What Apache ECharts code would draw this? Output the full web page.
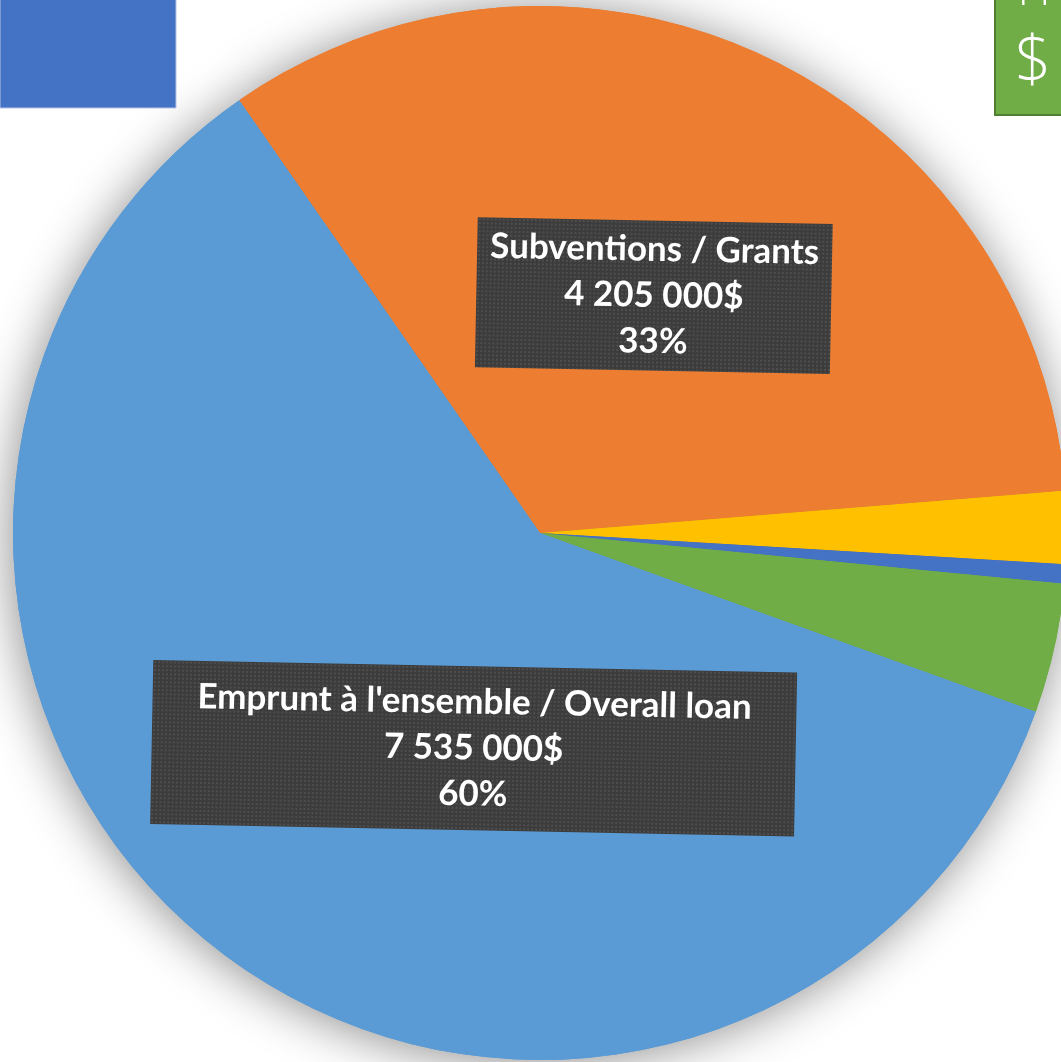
<!DOCTYPE html>
<html>
<head>
<meta charset="utf-8">
<script src="https://cdn.jsdelivr.net/npm/echarts@6/dist/echarts.min.js"></script>
<style>
  html, body { margin: 0; padding: 0; background: #fff; }
  #chart { width: 1061px; height: 1062px; }
</style>
</head>
<body>
<div id="chart"></div>
<script>
// données (sens horaire à partir du bord gauche de la tranche orange)
const sliceNames = ['Subventions / Grants', 'Source 3', 'Source 4', 'Source 5', "Emprunt à l'ensemble / Overall loan"]
const sliceValues = [4205000, 280000, 75000, 500000, 7535000]
const sliceColors = ['#ED7D31', '#FFC000', '#4472C4', '#70AD47', '#5B9BD5']
const labelShown = [true, false, false, false, true]

const myChart = echarts.init(document.getElementById('chart'))

// petite texture pointillée des étiquettes
const dotPattern = (w, h) => {
  const c = document.createElement('canvas')
  c.width = w
  c.height = h
  const ctx = c.getContext('2d')
  ctx.fillStyle = '#3c3c3c'
  ctx.fillRect(0, 0, w, h)
  ctx.fillStyle = '#4e4e4e'
  for (let y = 1; y < h; y += 4) {
    for (let x = 1; x < w; x += 4) ctx.fillRect(x, y, 2, 2)
  }
  return c
}

const fmtMoney = (v) => String(v).replace(/\B(?=(\d{3})+(?!\d))/g, ' ') + '$'

// boîtes des étiquettes : largeur texte, paddings, décalage
const boxes = {
  0: { w: 327, pv: 6, ph: 14, offset: [0, 3.5] },
  4: { w: 602, pv: 13, ph: 21, offset: [96, 2] }
}

const pieData = sliceNames.map((name, i) => {
  const item = { name, value: sliceValues[i], itemStyle: { color: sliceColors[i] } }
  if (!labelShown[i]) {
    item.label = { show: false }
  } else {
    const b = boxes[i]
    item.label = {
      width: b.w,
      overflow: 'none',
      padding: [b.pv + 3, b.ph, b.pv - 3, b.ph],
      offset: b.offset,
      backgroundColor: { image: dotPattern(b.w + 2 * b.ph, 138 + 2 * b.pv) }
    }
  }
  return item
})

const option = {
  animation: false,
  graphic: [
    {
      type: 'rect', z: 100,
      shape: { x: 0, y: -2, width: 176, height: 110 },
      style: { fill: '#4472C4', stroke: '#b4c4e6', lineWidth: 1 }
    },
    {
      type: 'rect', z: 100,
      shape: { x: 995, y: -4, width: 80, height: 119 },
      style: { fill: '#70AD47', stroke: '#507E32', lineWidth: 2 }
    },
    {
      type: 'text', z: 101, x: 1034, y: 15,
      style: { text: 'H', fill: '#fff', font: '300 46px "Open Sans"', align: 'center', verticalAlign: 'bottom' }
    },
    {
      type: 'text', z: 101, x: 1033, y: 64,
      style: { text: '$', fill: '#fff', font: '300 64px "Open Sans"', align: 'center', verticalAlign: 'middle' }
    }
  ],
  series: [
    {
      // ombre portée du disque
      type: 'pie',
      silent: true,
      z: 1,
      center: [540, 533],
      radius: 527,
      startAngle: 124.8,
      clockwise: true,
      label: { show: false },
      labelLine: { show: false },
      itemStyle: {
        borderWidth: 0,
        shadowBlur: 50,
        shadowColor: 'rgba(0,0,0,0.45)',
        shadowOffsetX: -2,
        shadowOffsetY: 3
      },
      data: sliceValues.map((v, i) => ({ value: v, itemStyle: { color: sliceColors[i] } }))
    },
    {
      type: 'pie',
      z: 2,
      center: [540, 533],
      radius: 527,
      startAngle: 124.8,
      clockwise: true,
      percentPrecision: 0,
      itemStyle: { borderWidth: 0 },
      labelLine: { show: false },
      label: {
        show: true,
        position: 'inside',
        rotate: -1.1,
        color: '#ffffff',
        fontFamily: 'Lato',
        fontWeight: 'bold',
        fontSize: 35,
        lineHeight: 46,
        align: 'center',
        overflow: 'none',
        shadowBlur: 6,
        shadowColor: 'rgba(0,0,0,0.55)',
        shadowOffsetX: 3,
        shadowOffsetY: 4,
        formatter: (params) => `${params.name}\n${fmtMoney(params.value)}\n${params.percent}%`
      },
      data: pieData
    }
  ]
}

myChart.setOption(option)
window.addEventListener('resize', myChart.resize)
</script>
</body>
</html>
